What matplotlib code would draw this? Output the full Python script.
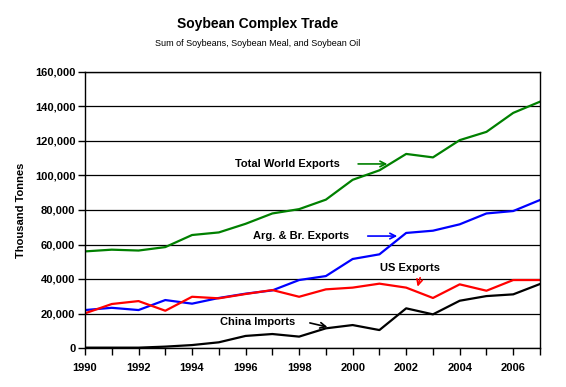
import matplotlib
matplotlib.use("Agg")
import matplotlib.pyplot as plt
from matplotlib.ticker import FuncFormatter, MultipleLocator

years = list(range(1990, 2008))
total_world = [56000, 57000, 56500, 58500, 65500, 67000, 72000, 78000, 80500, 86000,
               97500, 103000, 112500, 110500, 120500, 125300, 136300, 142800]
arg_br = [22000, 23300, 22000, 27800, 25700, 29000, 31500, 33400, 39400, 41700,
          51600, 54300, 66700, 68000, 71700, 78000, 79400, 85800]
us_exports = [20100, 25500, 27200, 21600, 29700, 28800, 31300, 33600, 29700, 34000,
              35000, 37300, 35000, 29000, 36900, 33200, 39400, 39400]
china_imports = [200, 200, 200, 800, 1700, 3300, 7000, 8100, 6600, 11400,
                 13300, 10400, 23000, 19500, 27400, 30100, 31100, 37100]

plt.rcParams['font.family'] = ['Liberation Sans', 'DejaVu Sans']

fig = plt.figure(figsize=(5.66, 3.87), dpi=100)
ax = fig.add_axes([85/566, 39/387, 455/566, 276/387])

ax.plot(years, total_world, color='#008000', lw=1.6)
ax.plot(years, arg_br, color='#0000FF', lw=1.6)
ax.plot(years, us_exports, color='#FF0000', lw=1.6)
ax.plot(years, china_imports, color='black', lw=1.6)

ax.set_xlim(1990, 2007)
ax.set_ylim(0, 160000)
ax.xaxis.set_major_locator(MultipleLocator(2))
ax.xaxis.set_minor_locator(MultipleLocator(1))
ax.yaxis.set_major_locator(MultipleLocator(20000))
ax.yaxis.set_major_formatter(FuncFormatter(lambda v, p: f"{int(v):,}"))
ax.set_xticks([1990, 1992, 1994, 1996, 1998, 2000, 2002, 2004, 2006])
ax.grid(axis='y', color='black', lw=0.9)
ax.set_axisbelow(True)
for s in ax.spines.values():
    s.set_color('black')
    s.set_linewidth(1.0)
ax.tick_params(axis='both', which='both', direction='out', length=5, width=1, color='black')
ax.tick_params(axis='x', which='minor', length=5)
for lab in ax.get_xticklabels() + ax.get_yticklabels():
    lab.set_fontweight('bold')
    lab.set_fontsize(8)
ax.tick_params(axis='x', pad=6)
ax.tick_params(axis='y', pad=2)

ax.set_ylabel('Thousand Tonnes', fontsize=8, fontweight='bold', labelpad=6)

fig.text(258/566, 1 - 24/387, 'Soybean Complex Trade', ha='center', va='center',
         fontsize=10, fontweight='bold')
fig.text(258/566, 1 - 43/387, 'Sum of Soybeans, Soybean Meal, and Soybean Oil',
         ha='center', va='center', fontsize=6.5)

akw = dict(fontsize=8, fontweight='bold', ha='left', va='center')
ax.text(1995.6, 106700, 'Total World Exports', **akw)
ax.annotate('', xy=(2001.4, 106700), xytext=(2000.1, 106700),
            arrowprops=dict(arrowstyle='->', color='#008000', lw=1.2))
ax.text(1996.28, 64700, 'Arg. & Br. Exports', **akw)
ax.annotate('', xy=(2001.77, 64900), xytext=(2000.46, 64900),
            arrowprops=dict(arrowstyle='->', color='#0000FF', lw=1.2))
ax.text(2001.02, 46400, 'US Exports', **akw)
ax.annotate('', xy=(2002.4, 34000), xytext=(2002.55, 42300),
            arrowprops=dict(arrowstyle='->', color='#FF0000', lw=1.2))
ax.text(1995.04, 15300, 'China Imports', **akw)
ax.annotate('', xy=(1999.16, 11800), xytext=(1998.3, 14900),
            arrowprops=dict(arrowstyle='->', color='black', lw=1.2))

fig.savefig('out.png', dpi=100)
